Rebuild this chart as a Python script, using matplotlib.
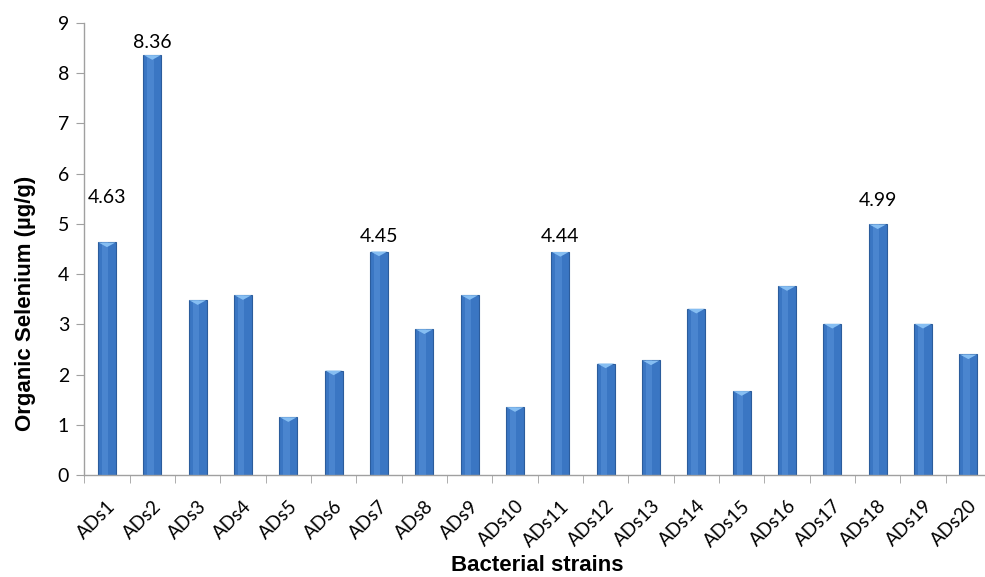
import matplotlib
matplotlib.use("Agg")
import matplotlib.pyplot as plt
import matplotlib.transforms as mtransforms
import numpy as np

categories = ["ADs1", "ADs2", "ADs3", "ADs4", "ADs5", "ADs6", "ADs7", "ADs8", "ADs9", "ADs10",
              "ADs11", "ADs12", "ADs13", "ADs14", "ADs15", "ADs16", "ADs17", "ADs18", "ADs19", "ADs20"]
values = [4.63, 8.36, 3.48, 3.58, 1.15, 2.08, 4.45, 2.90, 3.58, 1.35,
          4.44, 2.22, 2.28, 3.31, 1.67, 3.76, 3.01, 4.99, 3.01, 2.40]
labeled = {0: "4.63", 1: "8.36", 6: "4.45", 10: "4.44", 17: "4.99"}
label_offsets = {0: 26, 1: 3, 6: 5, 10: 5, 17: 11}

fig = plt.figure(figsize=(9.85, 5.77), dpi=100)
ax = fig.add_axes([84.3 / 985, 1 - 475 / 577, 906.7 / 985, 452 / 577])

x = np.arange(len(categories))
ax.bar(x, values, width=0.4, color="#3A76C3", edgecolor="#2B5C9C", linewidth=0.8, zorder=2)
# light highlight strip and top bevel triangle
ax.bar(x - 0.04, values, width=0.14, color="#5A95DC", linewidth=0, alpha=0.5, zorder=3)
tri = [(-1, 0), (1, 0), (0, -0.55), (-1, 0)]
ax.scatter(x, values, marker=tri, s=150, color="#86BEF2", edgecolor="none", zorder=4)

for i, txt in labeled.items():
    ax.annotate(txt, (x[i], values[i]), xytext=(0, label_offsets[i]), textcoords="offset points",
                ha="center", va="bottom", fontsize=14, family="Lato")

ax.set_xlim(-0.5, len(categories) - 0.5)
ax.set_ylim(0, 9)
ax.set_yticks(range(0, 10))
ax.set_yticklabels([str(v) for v in range(0, 10)], fontsize=14, family="Lato")
ax.set_xticks(x)
ax.set_xticklabels(categories, rotation=45, ha="right", rotation_mode="anchor", fontsize=13.5, family="Lato")
offset = mtransforms.ScaledTranslation(5 / 100, 0, fig.dpi_scale_trans)
for lab in ax.get_xticklabels():
    lab.set_transform(lab.get_transform() + offset)
ax.set_xticks(np.arange(-0.5, len(categories), 1.0), minor=True)
ax.tick_params(axis="x", which="major", length=0, pad=16)
ax.tick_params(axis="x", which="minor", length=6, color="#A0A0A0", direction="out")
ax.tick_params(axis="y", length=6, color="#A0A0A0", direction="out", pad=5)

for s in ["top", "right"]:
    ax.spines[s].set_visible(False)
for s in ["left", "bottom"]:
    ax.spines[s].set_color("#A0A0A0")
    ax.spines[s].set_linewidth(1.0)

ax.set_ylabel("Organic Selenium (µg/g)", fontsize=16, fontweight="bold", family="Liberation Sans")
ax.yaxis.set_label_coords(-0.053, 0.38)
ax.set_xlabel("Bacterial strains", fontsize=16, fontweight="bold", family="Liberation Sans", labelpad=4)

fig.savefig("out.png", dpi=100)
